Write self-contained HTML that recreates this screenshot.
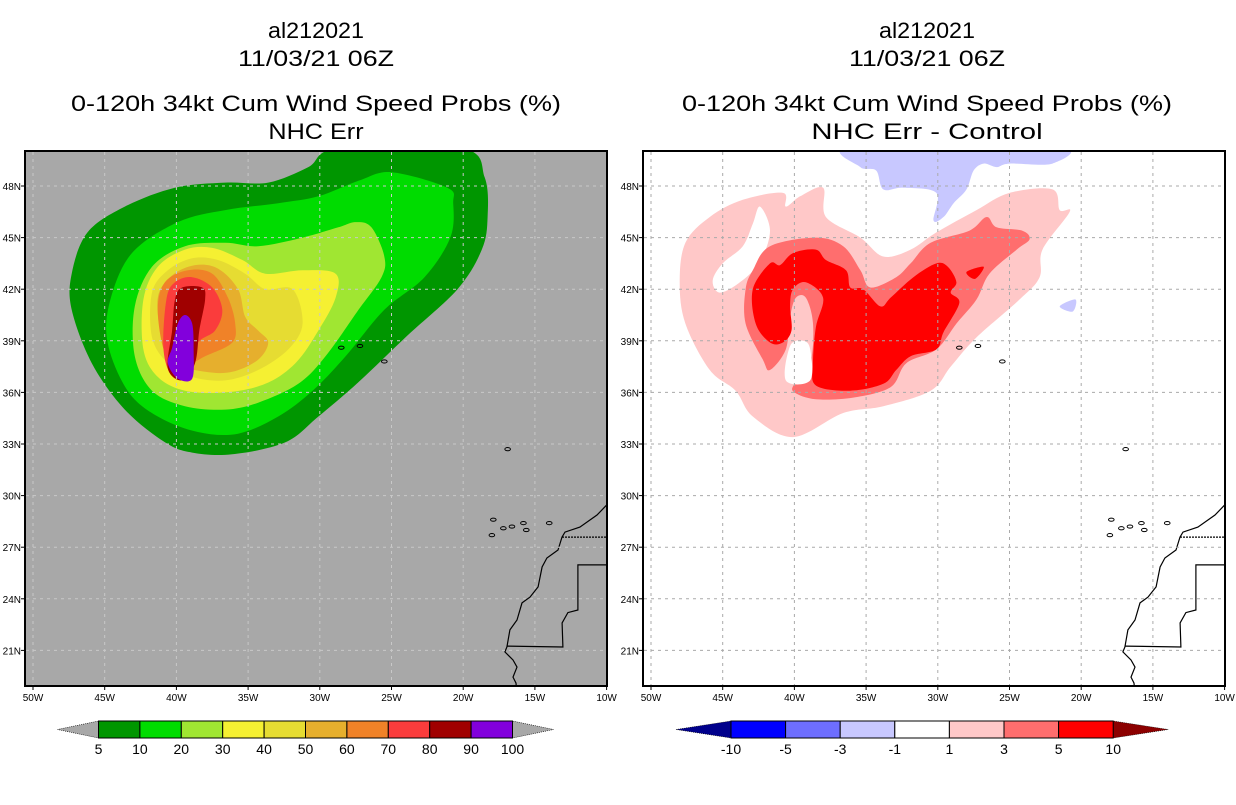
<!DOCTYPE html>
<html><head><meta charset="utf-8">
<style>
html,body{margin:0;padding:0;background:#fff;}
svg text{font-family:"Liberation Sans",sans-serif;}
</style></head>
<body>
<svg id="root" width="1236" height="800" viewBox="0 0 1236 800" xmlns="http://www.w3.org/2000/svg"></svg>
<script>
// ---------- data ----------
const lonTicks = [-50,-45,-40,-35,-30,-25,-20,-15,-10];
const lonLabels = ["50W","45W","40W","35W","30W","25W","20W","15W","10W"];
const latTicks = [21,24,27,30,33,36,39,42,45,48];
const latLabels = ["21N","24N","27N","30N","33N","36N","39N","42N","45N","48N"];

const leftLevels = ["5","10","20","30","40","50","60","70","80","90","100"];
const leftColors = ["#009600","#00dc00","#a0e632","#f5f032","#e6dc32","#e6af2d","#f08228","#fa3c3c","#a00000","#8200dc"];
const rightLevels = ["-10","-5","-3","-1","1","3","5","10"];
const rightColors = ["#0000ff","#6e6eff","#c8c8ff","#ffffff","#ffc8c8","#ff6e6e","#ff0000"];

// left panel contours [lon,lat]
const c5 = [[-28.7,50.2],[-20.1,50.2],[-18.5,48.5],[-18.3,46.2],[-18.7,44.3],[-20.4,42.0],[-23.9,39.3],[-27.3,36.6],[-30.1,34.6],[-32.4,33.1],[-36.1,32.4],[-38.9,32.5],[-40.8,33.1],[-43.6,35.0],[-45.9,37.7],[-47.3,40.8],[-47.3,42.9],[-46.2,45.3],[-43.6,46.8],[-40.1,47.9],[-36.6,48.2],[-33.6,48.2],[-30.8,49.1]];
const c10 = [[-25.0,48.8],[-21.1,47.9],[-20.7,47.0],[-20.9,45.0],[-22.7,42.7],[-25.5,40.8],[-28.2,38.1],[-30.5,36.1],[-32.9,34.6],[-35.7,33.6],[-38.5,33.7],[-41.3,34.6],[-43.4,36.1],[-44.8,38.9],[-44.6,41.4],[-43.1,44.1],[-39.9,45.9],[-36.6,46.6],[-32.9,47.0],[-30.1,47.4],[-27.3,48.3]];
const c20 = [[-27.5,45.9],[-26.4,45.6],[-25.5,43.9],[-25.7,42.7],[-27.3,40.8],[-29.6,38.1],[-31.5,36.5],[-34.3,35.4],[-36.6,35.0],[-39.4,35.2],[-41.7,36.1],[-42.9,38.1],[-42.9,41.0],[-41.7,43.3],[-39.4,44.5],[-36.6,44.7],[-34.3,44.5],[-31.2,45.0],[-28.7,45.6]];
const c30 = [[-28.9,42.9],[-28.9,41.5],[-30.1,39.6],[-31.7,37.7],[-33.8,36.5],[-36.6,36.0],[-39.4,36.1],[-41.3,36.9],[-42.3,38.5],[-42.3,41.4],[-41.3,43.3],[-39.4,44.3],[-37.5,44.4],[-35.4,43.7],[-33.8,42.9],[-31.2,43.1]];
const c40 = [[-31.9,42.0],[-31.2,40.0],[-32.2,38.5],[-34.3,37.3],[-36.6,36.7],[-38.9,36.9],[-40.6,37.7],[-41.7,39.2],[-41.7,41.8],[-40.6,43.1],[-38.9,43.8],[-37.1,43.7],[-35.2,42.9],[-33.8,42.0]];
const c50 = [[-33.6,38.9],[-34.3,37.9],[-36.1,37.2],[-38.0,37.2],[-39.9,37.7],[-41.0,39.2],[-41.3,41.5],[-40.3,42.8],[-38.7,43.4],[-37.1,43.2],[-35.7,42.0],[-35.2,40.4],[-34.3,39.6]];
const c60 = [[-35.9,40.0],[-36.1,38.9],[-38.0,38.1],[-39.6,37.5],[-40.8,38.3],[-41.3,40.8],[-40.8,42.4],[-39.2,43.1],[-37.5,42.9],[-36.4,41.5]];
const c70 = [[-36.8,40.8],[-37.3,39.6],[-38.5,38.9],[-39.2,37.5],[-40.3,37.0],[-40.9,38.5],[-40.7,41.4],[-40.1,42.4],[-38.9,42.7],[-37.5,42.1]];
const c80 = [[-39.6,42.1],[-38.2,42.1],[-38.0,41.4],[-38.4,39.6],[-38.7,37.7],[-39.6,36.7],[-40.6,37.4],[-40.3,39.6],[-40.1,41.4]];
const c90 = [[-39.4,40.5],[-38.9,40.0],[-38.8,38.5],[-38.9,36.8],[-39.9,36.8],[-40.6,37.7],[-40.3,38.6],[-39.9,40.0]];
const leftContours = [c5,c10,c20,c30,c40,c50,c60,c70,c80,c90];

// right panel difference regions
const dPink = [[-22.0,47.8],[-21.5,46.6],[-20.8,46.5],[-22.7,44.3],[-22.9,42.7],[-24.3,41.4],[-27.3,39.2],[-29.1,37.5],[-30.5,36.1],[-33.8,35.2],[-36.6,34.8],[-40.1,33.4],[-42.9,34.6],[-44.1,36.1],[-45.9,37.3],[-47.6,40.0],[-48.0,42.4],[-47.6,44.7],[-45.9,46.2],[-43.6,47.2],[-40.8,47.6],[-40.6,46.8],[-39.6,47.4],[-38.0,47.9],[-37.8,46.2],[-35.4,45.0],[-33.8,43.9],[-31.9,44.3],[-30.1,45.3],[-27.3,46.6],[-25.0,47.6]];
const dHoleA = [[-45.7,42.5],[-45.0,43.5],[-43.6,44.5],[-42.9,45.8],[-42.4,46.8],[-41.7,45.4],[-42.4,43.6],[-43.8,42.4],[-45.2,41.8]];
const dSalmon = [[-42.9,43.1],[-41.7,44.5],[-38.5,45.0],[-36.6,44.5],[-35.4,43.1],[-34.7,42.1],[-32.9,42.7],[-31.9,43.5],[-30.5,44.7],[-27.8,45.4],[-26.6,46.2],[-25.9,45.6],[-24.1,45.4],[-23.6,44.9],[-24.5,44.3],[-26.4,42.9],[-27.3,41.4],[-28.7,40.0],[-30.1,38.5],[-32.2,37.7],[-33.3,36.3],[-35.9,35.7],[-38.5,35.6],[-40.0,36.0],[-40.0,36.5],[-38.9,37.7],[-38.7,40.0],[-39.2,41.5],[-39.9,41.5],[-40.3,40.4],[-40.6,38.5],[-41.7,37.3],[-42.2,37.9],[-43.4,40.0],[-43.4,42.0]];
const dRed = [[-42.9,42.0],[-41.7,43.5],[-41.0,43.4],[-40.1,44.1],[-38.5,44.3],[-37.8,43.7],[-36.4,43.1],[-36.1,42.1],[-35.2,42.0],[-34.0,41.0],[-33.3,41.5],[-31.7,42.7],[-30.1,43.5],[-29.3,43.3],[-28.7,42.4],[-29.1,41.8],[-28.5,41.2],[-29.6,39.5],[-30.1,38.5],[-31.9,38.1],[-32.9,37.3],[-33.8,36.5],[-36.1,36.1],[-38.5,36.4],[-38.7,37.7],[-38.5,39.8],[-38.0,41.5],[-39.2,42.4],[-40.1,42.0],[-40.3,41.0],[-40.2,39.6],[-40.8,38.9],[-41.7,38.9],[-42.7,40.0]];
const dRedBlob = [[-28.0,43.0],[-26.8,43.3],[-27.4,42.6]];
const dHoleB = [[-40.6,36.7],[-38.9,36.7],[-38.9,38.5],[-39.4,39.0],[-40.3,38.7]];
const dBlue = [[-35.9,50.3],[-35.4,49.1],[-34.3,48.9],[-33.8,47.8],[-32.4,47.9],[-30.1,47.6],[-30.3,46.0],[-29.6,46.2],[-28.9,47.0],[-28.0,47.8],[-27.5,48.9],[-26.8,49.3],[-25.9,49.1],[-25.0,49.3],[-22.0,49.3],[-21.8,50.3]];
const dBlueBlob = [[-21.5,41.0],[-20.4,41.4],[-20.6,40.7]];

// coastline / borders
const coast = [[-10.0,29.45],[-10.67,28.87],[-11.86,28.17],[-12.9,27.88],[-13.11,27.59],[-13.39,26.84],[-14.16,26.37],[-14.5,25.85],[-14.78,24.69],[-15.34,24.1],[-15.9,23.76],[-16.25,22.77],[-16.74,22.19],[-16.95,21.2],[-17.09,20.91],[-16.53,20.44],[-16.25,20.03],[-16.53,19.45],[-16.32,19.1],[-16.3,18.9]];
const border1 = [[-13.11,27.59],[-9.97,27.59]];
const border2 = [[-9.97,25.97],[-12.0,25.97],[-12.0,23.35],[-12.7,23.2],[-13.1,22.6],[-13.05,21.2],[-16.95,21.25]];
const islands = [[-15.8,28.4],[-17.9,28.6],[-17.2,28.1],[-16.6,28.2],[-15.6,28.0],[-14.0,28.4],[-18.0,27.7],[-16.9,32.7],[-28.5,38.6],[-27.2,38.7],[-25.5,37.8]];

// ---------- helpers ----------
const NS = "http://www.w3.org/2000/svg";
const root = document.getElementById('root');
function mk(tag, attrs, parent){ const e=document.createElementNS(NS,tag); for(const k in attrs) e.setAttribute(k,attrs[k]); (parent||root).appendChild(e); return e; }
const PX = 14.34, PY = 17.2;
function xs(lon, off){ return off + 33 + (lon + 50) * PX; }
function ys(lat){ return 186 + (48 - lat) * PY; }
function smoothPath(pts, off){
  const p = pts.map(d=>[xs(d[0],off), ys(d[1])]);
  const n=p.length; let s="M"+p[0][0].toFixed(1)+","+p[0][1].toFixed(1);
  for(let i=0;i<n;i++){
    const p0=p[(i-1+n)%n],p1=p[i],p2=p[(i+1)%n],p3=p[(i+2)%n];
    const c1=[p1[0]+(p2[0]-p0[0])/6,p1[1]+(p2[1]-p0[1])/6];
    const c2=[p2[0]-(p3[0]-p1[0])/6,p2[1]-(p3[1]-p1[1])/6];
    s+="C"+c1[0].toFixed(1)+","+c1[1].toFixed(1)+" "+c2[0].toFixed(1)+","+c2[1].toFixed(1)+" "+p2[0].toFixed(1)+","+p2[1].toFixed(1);
  }
  return s+"Z";
}
function linePath(pts, off){ return pts.map((d,i)=>(i?"L":"M")+xs(d[0],off).toFixed(1)+","+ys(d[1]).toFixed(1)).join(""); }

function titles(cx, line4){
  const lines=[["al212021",30,"storm-id-title",96],["11/03/21 06Z",58,"date-title",156],["0-120h 34kt Cum Wind Speed Probs (%)",103,"product-title",490],[line4,131,"subtitle",line4.length*13.6]];
  lines.forEach(l=>{
    const t=mk('text',{x:cx,y:l[1]+8,'text-anchor':'middle','font-size':22,fill:'#000',textLength:l[3],lengthAdjust:'spacingAndGlyphs'});
    
    
    t.textContent=l[0];
  });
}

function panel(off, bg, name){
  const g=mk('g',{});
  
  
  const cid='clip'+off;
  const cp=mk('clipPath',{id:cid},g); mk('rect',{x:25+off,y:151,width:582,height:535},cp);
  const bgR=mk('rect',{x:25+off,y:151,width:582,height:535,fill:bg},g);
  
  
  const fills=mk('g',{'clip-path':'url(#'+cid+')'},g);
  return {g, fills, cid};
}

function finishPanel(P, off, gridColor){
  const {g, fills}=P;
  const cg=mk('g',{fill:'none',stroke:'#000','stroke-width':1.2,'clip-path':'url(#'+P.cid+')'},g);
  
  
  mk('path',{d:linePath(coast,off)},cg);
  mk('path',{d:linePath(border1,off),'stroke-dasharray':'2,1'},cg);
  mk('path',{d:linePath(border2,off)},cg);
  islands.forEach(d=>{ mk('ellipse',{cx:xs(d[0],off),cy:ys(d[1]),rx:2.8,ry:1.6,'stroke-width':1},cg); });
  const gg=mk('g',{stroke:gridColor,'stroke-width':1,'stroke-dasharray':'3,4'},g);
  
  
  lonTicks.forEach(l=>{ if(l>-50.5&&l<-10) mk('line',{x1:xs(l,off),x2:xs(l,off),y1:152,y2:685},gg); });
  latTicks.forEach(l=>{ mk('line',{x1:26+off,x2:606+off,y1:ys(l),y2:ys(l)},gg); });
  const fr=mk('rect',{x:25+off,y:151,width:582,height:535,fill:'none',stroke:'#000','stroke-width':2},g);
  
  
  lonTicks.forEach((l,i)=>{
    mk('line',{x1:xs(l,off),x2:xs(l,off),y1:686,y2:690,stroke:'#000'},g);
    const t=mk('text',{x:xs(l,off),y:701,'text-anchor':'middle','font-size':10,fill:'#000'},g);
    
    
    t.textContent=lonLabels[i];
  });
  latTicks.forEach((l,i)=>{
    mk('line',{x1:21+off,x2:25+off,y1:ys(l),y2:ys(l),stroke:'#000'},g);
    const t=mk('text',{x:21+off,y:ys(l)+4,'text-anchor':'end','font-size':10,fill:'#000'},g);
    
    
    t.textContent=latLabels[i];
  });
}

// ---------- left panel ----------
titles(316,"NHC Err");
const L=panel(0,'#a8a8a8','left-probability-map');
leftContours.forEach((c,i)=>{
  const p=mk('path',{d:smoothPath(c,0),fill:leftColors[i]},L.fills);
  
  
});
finishPanel(L,0,'#c8c8c8');

// ---------- right panel ----------
titles(927,"NHC Err - Control");
const R=panel(618,'#ffffff','right-difference-map');
const rSeq=[[dBlue,'#c8c8ff','negative-diff-region'],[dBlueBlob,'#c8c8ff','negative-diff-blob'],[dPink,'#ffc8c8','diff-1-3-region'],[dHoleA,'#ffffff','diff-hole'],[dSalmon,'#ff6e6e','diff-3-5-region'],[dRed,'#ff0000','diff-5-10-region'],[dRedBlob,'#ff0000','diff-5-10-blob'],[dHoleB,'#ffffff','diff-hole-south']];
rSeq.forEach(s=>{
  const p=mk('path',{d:smoothPath(s[0],618),fill:s[1]},R.fills);
  
  
});
finishPanel(R,618,'#aaaaaa');

// ---------- colorbars ----------
function colorbar(x0, boxW, colors, labels, lTri, rTri, triW, name){
  const g=mk('g',{});
  
  
  const y0=721, h=17, n=colors.length, x1=x0+n*boxW;
  mk('path',{d:`M${x0-triW},${y0+h/2}L${x0},${y0}L${x0},${y0+h}Z`,fill:lTri,stroke:'#000','stroke-width':0.6,'stroke-dasharray':'1,1'},g);
  mk('path',{d:`M${x1+triW},${y0+h/2}L${x1},${y0}L${x1},${y0+h}Z`,fill:rTri,stroke:'#000','stroke-width':0.6,'stroke-dasharray':'1,1'},g);
  colors.forEach((c,i)=>{
    const r=mk('rect',{x:x0+i*boxW,y:y0,width:boxW,height:h,fill:c,stroke:'#000','stroke-width':1},g);
    
    
  });
  labels.forEach((l,i)=>{
    const t=mk('text',{x:x0+i*boxW,y:y0+h+16,'text-anchor':'middle','font-size':14,fill:'#000'},g);
    
    
    t.textContent=l;
  });
}
colorbar(98.5, 41.4, leftColors, leftLevels, '#a8a8a8', '#a8a8a8', 41, 'probability-colorbar');
colorbar(731, 54.6, rightColors, rightLevels, '#00008c', '#8c0000', 55, 'difference-colorbar');
</script>
</body></html>
